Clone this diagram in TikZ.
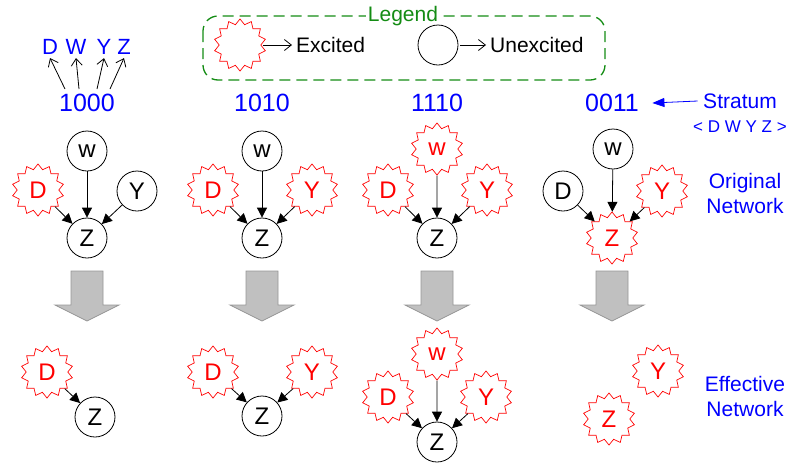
\documentclass[tikz,border=0pt]{standalone}
\usepackage{fontspec}
\setmainfont{Liberation Sans}
\usetikzlibrary{shapes.geometric,arrows.meta}
\definecolor{lgreen}{RGB}{20,140,20}
\definecolor{garrow}{RGB}{192,192,192}
\definecolor{gedge}{RGB}{150,150,150}
\begin{document}
\begin{tikzpicture}[x=1pt,y=-1pt,
  unex/.style={circle,draw,line width=0.8,minimum size=40,inner sep=0,font=\fontsize{24}{24}\selectfont},
  ex/.style={star,star points=14,star point ratio=1.25,draw=red,line width=0.7,text=red,minimum size=52,inner sep=0,font=\fontsize{24}{24}\selectfont},
  edge/.style={-{Triangle[length=10,width=10]},line width=0.8},
  blab/.style={text=blue,font=\fontsize{25}{25}\selectfont},
  side/.style={text=blue,font=\fontsize{21}{25}\selectfont,align=center},
  bigarrow/.style={fill=garrow,draw=gedge,line width=0.8},
  barb/.style={-{Straight Barb[length=7,width=11]},line width=0.8}]
\useasboundingbox (0,0) rectangle (793,464);

% legend
\draw[lgreen,dashed,dash pattern=on 11 off 6,line width=1.3,rounded corners=15] (203,16) rectangle (605,80);
\node[fill=white,text=lgreen,font=\fontsize{21}{21}\selectfont,inner sep=2] (leg) at (403,16) {Legend};
\node[ex] (lex) at (240,45) {};
\node[font=\fontsize{21}{21}\selectfont,anchor=west,inner sep=0] (lext) at (296,45) {Excited};
\draw[barb] ([xshift=2]lex.east) -- ([xshift=-4]lext.west);
\node[unex] (lun) at (438,45) {};
\node[font=\fontsize{21}{21}\selectfont,anchor=west,inner sep=0] (lunt) at (490,45) {Unexcited};
\draw[barb] ([xshift=2]lun.east) -- ([xshift=-4]lunt.west);

% top strata labels
\node[blab] (s1) at (87,103) {1000};
\node[blab] (s2) at (262,103) {1010};
\node[blab] (s3) at (437,103) {1110};
\node[blab] (s4) at (612,103) {0011};

\node[blab,font=\fontsize{22}{22}\selectfont] (tD) at (50,47) {D};
\node[blab,font=\fontsize{22}{22}\selectfont] (tW) at (76,47) {W};
\node[blab,font=\fontsize{22}{22}\selectfont] (tY) at (104,47) {Y};
\node[blab,font=\fontsize{22}{22}\selectfont] (tZ) at (124,47) {Z};
\coordinate (a1) at (65,89);
\coordinate (a2) at (79,89);
\coordinate (a3) at (97,89);
\coordinate (a4) at (110,89);
\draw[barb] (a1) -- (tD.south);
\draw[barb] (a2) -- (tW.south);
\draw[barb] (a3) -- (tY.south);
\draw[barb] (a4) -- (tZ.south);

% stratum legend
\node[side] (strat) at (740,101) {Stratum};
\node[text=blue,font=\fontsize{17}{17}\selectfont] (order) at (740,127) {< D W Y Z >};
\draw[blue,-{Triangle[length=12,width=9]},line width=0.8] ([xshift=-2]strat.west) -- ([xshift=10]s4.east);
\node[side] (orig) at (745,193) {Original\\Network};
\node[side] (eff) at (745,396) {Effective\\Network};

% original networks
\node[unex] (w1) at (87,151) {w};
\node[ex] (d1) at (38,190) {D};
\node[unex] (y1) at (137,191) {Y};
\node[unex] (z1) at (87,238) {Z};
\node[unex] (w2) at (262,151) {w};
\node[ex] (d2) at (213,190) {D};
\node[ex] (y2) at (312,190) {Y};
\node[unex] (z2) at (262,238) {Z};
\node[ex] (w3) at (437,149) {w};
\node[ex] (d3) at (388,190) {D};
\node[ex] (y3) at (487,190) {Y};
\node[unex] (z3) at (437,238) {Z};
\node[unex] (w4) at (613,149) {w};
\node[unex] (d4) at (563,191) {D};
\node[ex] (y4) at (662,191) {Y};
\node[ex] (z4) at (612,238) {Z};
\foreach \i in {1,2,3,4}{
  \draw[edge] (w\i) -- (z\i);
  \draw[edge] (d\i) -- (z\i);
  \draw[edge] (y\i) -- (z\i);
}

% big arrows
\foreach \cx in {87,262,437,612}{
  \draw[bigarrow] (\cx-16,271) -- (\cx+16,271) -- (\cx+16,305) -- (\cx+32,305) -- (\cx,321) -- (\cx-32,305) -- (\cx-16,305) -- cycle;
}

% effective networks
\node[ex] (ed1) at (47,372) {D};
\node[unex] (ez1) at (95,417) {Z};
\draw[edge] (ed1) -- (ez1);
\node[ex] (ed2) at (213,372) {D};
\node[ex] (ey2) at (312,372) {Y};
\node[unex] (ez2) at (262,416) {Z};
\draw[edge] (ed2) -- (ez2);
\draw[edge] (ey2) -- (ez2);
\node[ex] (ew3) at (437,354) {w};
\node[ex] (ed3) at (388,397) {D};
\node[ex] (ey3) at (486,397) {Y};
\node[unex] (ez3) at (437,442) {Z};
\draw[edge] (ew3) -- (ez3);
\draw[edge] (ed3) -- (ez3);
\draw[edge] (ey3) -- (ez3);
\node[ex] (ey4) at (658,371) {Y};
\node[ex] (ez4) at (609,419) {Z};
\end{tikzpicture}
\end{document}
